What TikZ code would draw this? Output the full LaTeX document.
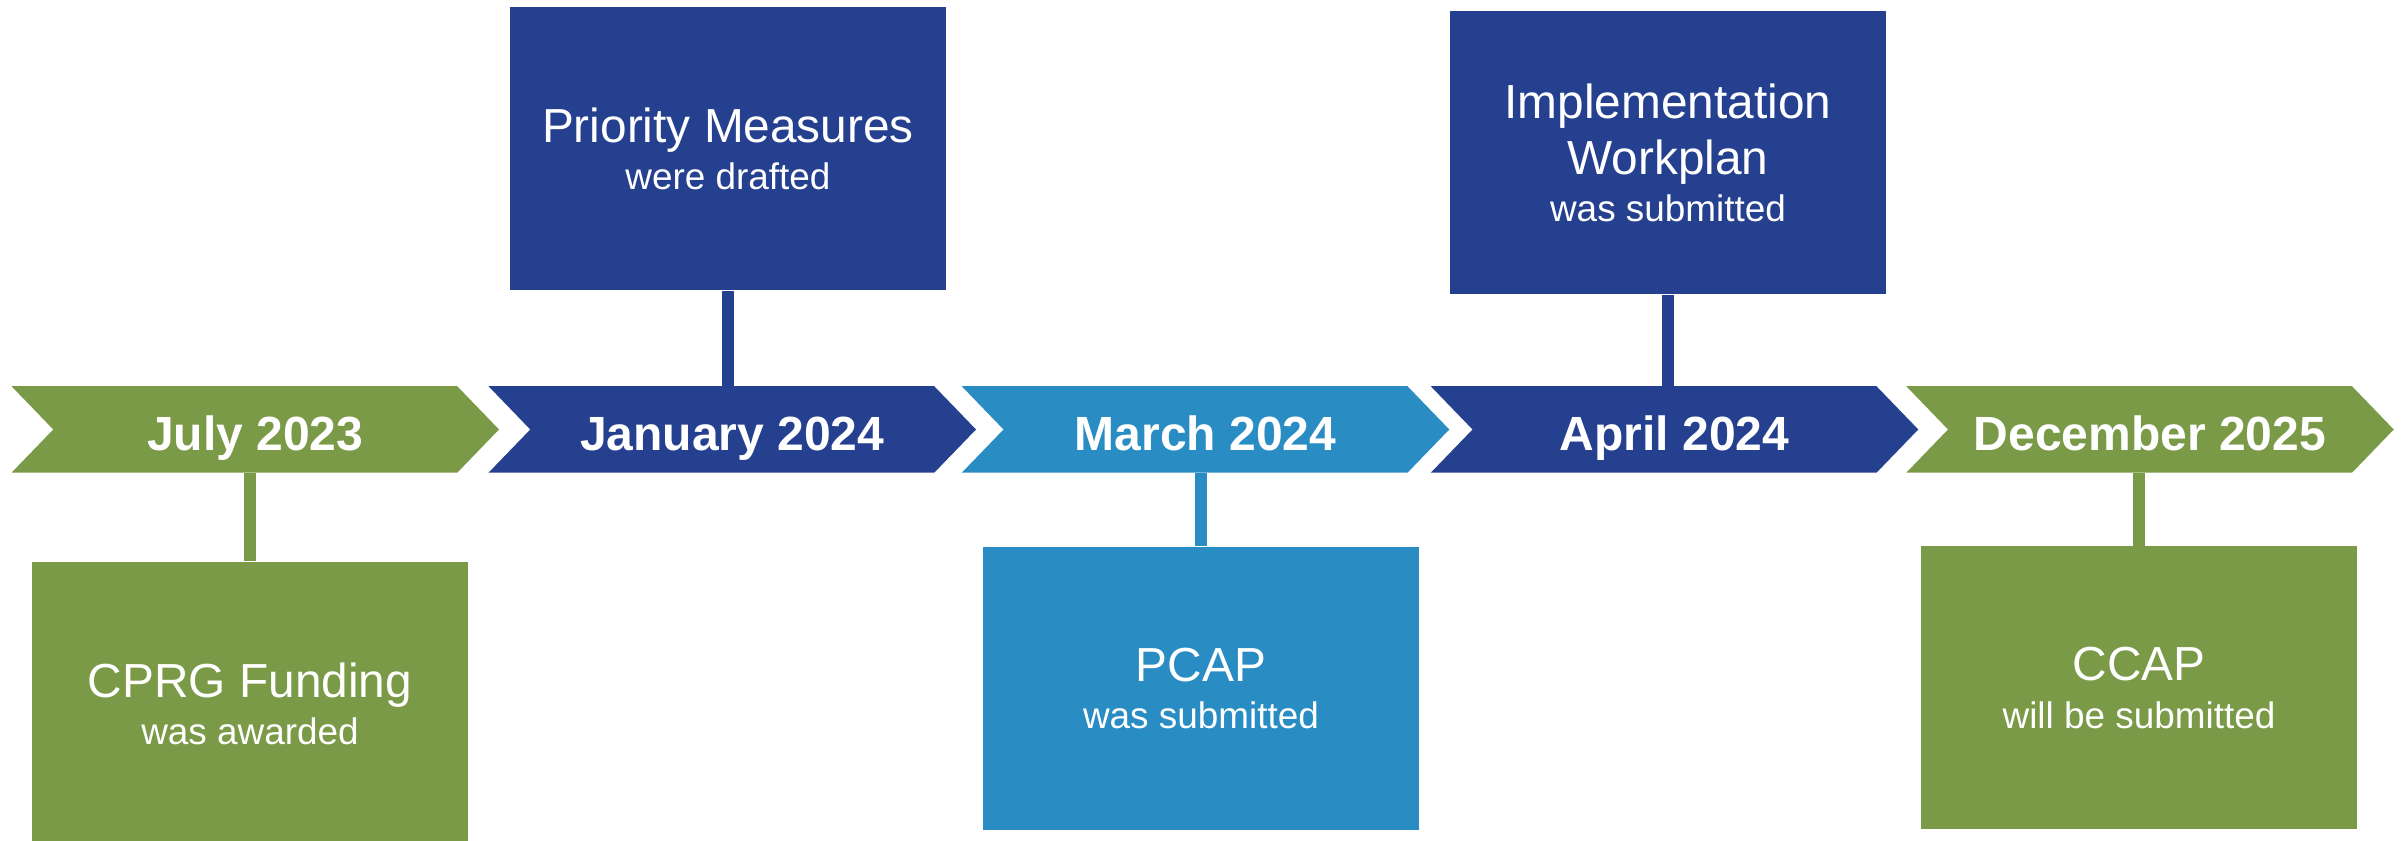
\documentclass[tikz,border=0pt]{standalone}
\usepackage{fontspec}
\setmainfont{Liberation Sans}
\usetikzlibrary{shapes.symbols, positioning}
\definecolor{tlgreen}{HTML}{7A9A48}
\definecolor{tlnavy}{HTML}{25408F}
\definecolor{tlsky}{HTML}{298DC4}
\newcommand{\sub}[1]{{\fontsize{10.5}{12.6}\selectfont #1}}

\begin{document}
\begin{tikzpicture}[
        chevron/.style={signal, signal from=west, signal to=east, signal pointer angle=92,
            minimum width=4.875cm, minimum height=0.865cm, inner sep=0pt,
            text height=0.5cm, text depth=0.08cm, text=white,
            font=\fontsize{13.66}{16}\selectfont\bfseries},
        event/.style={rectangle, minimum width=4.36cm, minimum height=2.83cm, inner sep=0pt,
            align=center, text=white, font=\fontsize{13.6}{15.9}\selectfont},
        stem/.style={line width=0.125cm}
    ]
        \useasboundingbox (0,0) rectangle (24.02,8.41);

        % Timeline
        \node[chevron, fill=tlgreen] (jul) at (2.5525, 4.115) {July 2023};
        \node[chevron, fill=tlnavy] (jan) at (7.3225, 4.115) {January 2024};
        \node[chevron, fill=tlsky] (mar) at (12.055, 4.115) {March 2024};
        \node[chevron, fill=tlnavy] (apr) at (16.745, 4.115) {April 2024};
        \node[chevron, fill=tlgreen] (dec) at (21.50, 4.115) {December 2025};

        % Events below
        \node[event, fill=tlgreen] (cprg) at (2.50, 1.375) {CPRG Funding\\[-2.5pt]\sub{was awarded}};
        \node[event, fill=tlsky] (pcap) at (12.01, 1.525) {PCAP\\[-2.5pt]\sub{was submitted}};
        \node[event, fill=tlgreen] (ccap) at (21.39, 1.53) {CCAP\\[-2.5pt]\sub{will be submitted}};

        % Events above
        \node[event, fill=tlnavy] (prio) at (7.28, 6.92) {Priority Measures\\[-2.5pt]\sub{were drafted}};
        \node[event, fill=tlnavy] (plan) at (16.68, 6.885) {Implementation\\Workplan\\[-2.5pt]\sub{was submitted}};

        % Stems
        \draw[stem, tlgreen] (cprg.north) -- (cprg.north |- jul.south);
        \draw[stem, tlnavy] (prio.south) -- (prio.south |- jan.north);
        \draw[stem, tlsky] (pcap.north) -- (pcap.north |- mar.south);
        \draw[stem, tlnavy] (plan.south) -- (plan.south |- apr.north);
        \draw[stem, tlgreen] (ccap.north) -- (ccap.north |- dec.south);
    \end{tikzpicture}
\end{document}
